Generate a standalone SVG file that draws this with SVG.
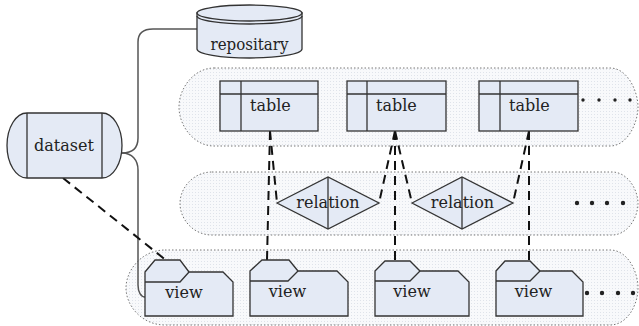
<svg xmlns="http://www.w3.org/2000/svg" width="639" height="326" viewBox="0 0 639 326">
<defs>
<pattern id="hatch" width="3" height="3" patternUnits="userSpaceOnUse">
<rect width="3" height="3" fill="#f8f9fb"/>
<rect width="1" height="1" fill="#dfe3ea"/>
</pattern>
<style>
.grp{fill:url(#hatch);stroke:#777;stroke-width:1;stroke-dasharray:1.5 2}
.node{fill:#e4eaf5;stroke:#333;stroke-width:1.3}
.ln{fill:none;stroke:#333;stroke-width:1.3}
.lbl{font-family:"DejaVu Serif",serif;font-size:16px;fill:#222}
.mid{text-anchor:middle}
.solid{fill:none;stroke:#555;stroke-width:1.5}
.dash{fill:none;stroke:#111;stroke-width:2;stroke-dasharray:9 6}
.dot{fill:#222}
</style>
</defs>
<g id="groups">
<path id="group-tables" class="grp" d="M214,68 H610 C628,68 638,92 638,107 C638,122 628,146 610,146 H214 C194,146 179,126 179,107 C179,88 194,68 214,68 Z"/>
<path id="group-relations" class="grp" d="M212,172 H612 C628,172 638,190 638,203.5 C638,217 628,235 612,235 H212 C193,235 180,219 180,203.5 C180,188 193,172 212,172 Z"/>
<path id="group-views" class="grp" d="M165,250 H610 C628,250 638,272 638,288 C638,304 628,325 610,325 H165 C142,325 126,306 126,288 C126,270 142,250 165,250 Z"/>
</g>
<g id="connectors">
<path class="solid" d="M122,153 C132,153 138,148 138,138 V42 C138,34 143,29 153,29 H197"/>
<path class="solid" d="M122,153 C132,153 138,160 138,170 V285 C138,292 141,297 145,297"/>
<path class="dash" d="M63,178 L167,261"/>
<path class="dash" d="M270,131 L267,260"/>
<path class="dash" d="M270,131 L277,203"/>
<path class="dash" d="M395,131 L379,203"/>
<path class="dash" d="M395,131 L395,260"/>
<path class="dash" d="M395,131 L412,203"/>
<path class="dash" d="M529,131 L513,203"/>
<path class="dash" d="M529,131 L529,260"/>
</g>
<g id="repositary">
<path class="node" d="M197,13 V49 A52.5,9 0 0 0 302,49 V13 Z"/>
<ellipse class="node" cx="249.5" cy="13" rx="52.5" ry="8"/>
<path class="ln" d="M197,16 A52.5,8 0 0 0 302,16"/>
<text class="lbl mid" x="249.5" y="50" textLength="78" lengthAdjust="spacingAndGlyphs">repositary</text>
</g>
<g id="dataset">
<path class="node" d="M27,113 H102 A20,32.5 0 0 1 102,178 H27 A20,32.5 0 0 1 27,113 Z"/>
<path class="ln" d="M27,113 V178 M102,113 V178"/>
<text class="lbl mid" x="64" y="151">dataset</text>
</g>
<g id="table1">
<rect class="node" x="220" y="81" width="98" height="50"/>
<path class="ln" d="M241,81 V131 M220,94 H318"/>
<text class="lbl" x="250" y="111">table</text>
</g>
<g id="table2">
<rect class="node" x="347" y="81" width="99" height="50"/>
<path class="ln" d="M367,81 V131 M347,94 H446"/>
<text class="lbl" x="376" y="111">table</text>
</g>
<g id="table3">
<rect class="node" x="479" y="81" width="99" height="50"/>
<path class="ln" d="M500,81 V131 M479,94 H578"/>
<text class="lbl" x="509" y="111">table</text>
</g>
<g id="tables-more">
<circle class="dot" cx="583" cy="100" r="1.7"/><circle class="dot" cx="599" cy="100" r="1.7"/><circle class="dot" cx="615" cy="100" r="1.7"/><circle class="dot" cx="630" cy="100" r="1.7"/>
</g>
<g id="relation1">
<path class="node" d="M277,203 L328,177 L379,203 L328,229 Z"/>
<path class="ln" d="M328,177 V229"/>
<text class="lbl mid" x="328" y="208">relation</text>
</g>
<g id="relation2">
<path class="node" d="M412,203 L462,177 L513,203 L462,229 Z"/>
<path class="ln" d="M462,177 V229"/>
<text class="lbl mid" x="462.5" y="208">relation</text>
</g>
<g id="relations-more">
<circle class="dot" cx="577" cy="203" r="2.2"/><circle class="dot" cx="592" cy="203" r="2.2"/><circle class="dot" cx="607" cy="203" r="2.2"/><circle class="dot" cx="623" cy="203" r="2.2"/>
</g>
<g id="view1">
<path class="node" d="M145,272 L155,260 L180,260 L189,272 L223,272 L233,282 L233,316 L145,316 Z"/>
<path class="ln" d="M145,282 H180 L189,272"/>
<text class="lbl mid" x="184" y="298">view</text>
</g>
<g id="view2">
<path class="node" d="M250,271 L262,260 L289,260 L298,271 L337,271 L348,282 L348,316 L250,316 Z"/>
<path class="ln" d="M250,281 H288 L298,271"/>
<text class="lbl mid" x="287.5" y="297">view</text>
</g>
<g id="view3">
<path class="node" d="M375,271 L385,261 L410,261 L420,271 L458,271 L469,282 L469,316 L375,316 Z"/>
<path class="ln" d="M375,281 H410 L420,271"/>
<text class="lbl mid" x="412" y="297">view</text>
</g>
<g id="view4">
<path class="node" d="M496,271 L505,261 L530,261 L540,271 L572,271 L583,282 L583,316 L496,316 Z"/>
<path class="ln" d="M496,281 H530 L540,271"/>
<text class="lbl mid" x="533.5" y="297">view</text>
</g>
<g id="views-more">
<circle class="dot" cx="587" cy="293" r="2.2"/><circle class="dot" cx="602" cy="293" r="2.2"/><circle class="dot" cx="618" cy="293" r="2.2"/><circle class="dot" cx="633" cy="293" r="2.2"/>
</g>
</svg>
